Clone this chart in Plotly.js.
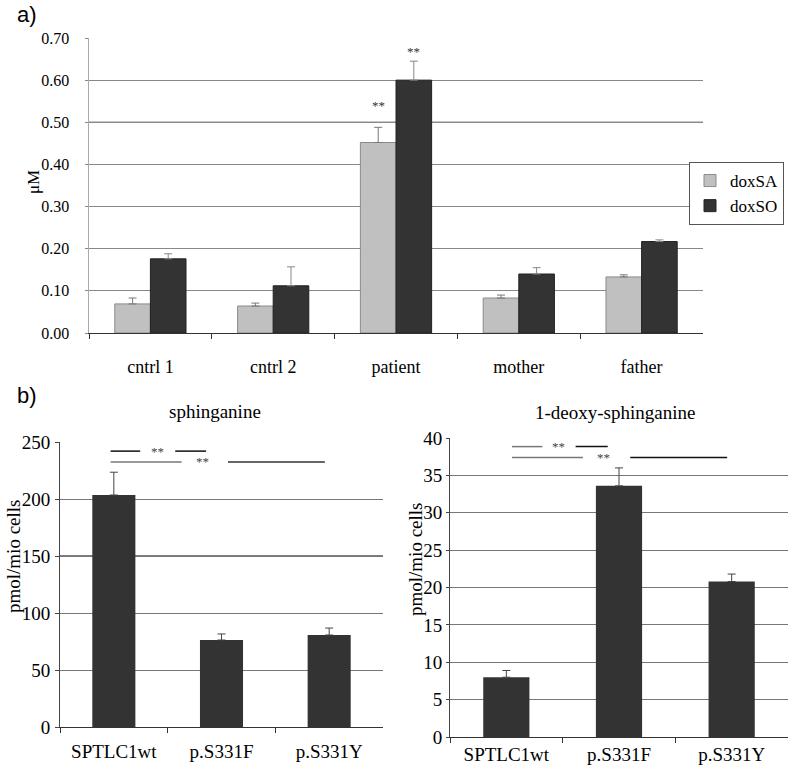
<!DOCTYPE html>
<html>
<head>
<meta charset="utf-8">
<script src="https://cdn.plot.ly/plotly-3.0.1.min.js"></script>
<style>html,body{margin:0;padding:0;background:#fff;overflow:hidden;}#chart{width:790px;height:765px;}</style>
</head>
<body>
<div id="chart"></div>
<script>
// ---- Data ----
var groupsA = ["cntrl 1", "cntrl 2", "patient", "mother", "father"];
var doxSA = [0.069, 0.064, 0.452, 0.083, 0.133];
var doxSAerr = [0.014, 0.007, 0.036, 0.007, 0.005];
var doxSO = [0.176, 0.112, 0.600, 0.140, 0.217];
var doxSOerr = [0.012, 0.045, 0.045, 0.015, 0.004];

var groupsB = ["SPTLC1wt", "p.S331F", "p.S331Y"];
var sphinganine = [203.5, 76.3, 80.7];
var sphinganineErr = [20, 5.3, 6.1];
var deoxySA = [8.0, 33.6, 20.8];
var deoxySAerr = [0.9, 2.4, 1.0];

var yTicksA = [0, 0.1, 0.2, 0.3, 0.4, 0.5, 0.6, 0.7];
var yTicksB1 = [0, 50, 100, 150, 200, 250];
var yTicksB2 = [0, 5, 10, 15, 20, 25, 30, 35, 40];

var SERIF = "Liberation Serif";
var SANS = "Liberation Sans";
var W = 790, H = 765;
function px(x) { return x / W; }
function py(y) { return 1 - y / H; }

var traces = [
  {type: "bar", name: "doxSA", x: groupsA, y: doxSA, xaxis: "x", yaxis: "y",
   marker: {color: "#c0c0c0", line: {color: "#8a8a8a", width: 1}},
   error_y: {type: "data", array: doxSAerr, symmetric: false, arrayminus: doxSAerr.map(function(){return 0;}), color: "#777", thickness: 1, width: 4}},
  {type: "bar", name: "doxSO", x: groupsA, y: doxSO, xaxis: "x", yaxis: "y",
   marker: {color: "#333333", line: {color: "#222", width: 1}},
   error_y: {type: "data", array: doxSOerr, symmetric: false, arrayminus: doxSOerr.map(function(){return 0;}), color: "#888", thickness: 1, width: 4}},
  {type: "bar", name: "sphinganine", x: groupsB, y: sphinganine, xaxis: "x2", yaxis: "y2", showlegend: false,
   width: 0.4,
   marker: {color: "#333333"},
   error_y: {type: "data", array: sphinganineErr, symmetric: false, arrayminus: [0,0,0], color: "#444", thickness: 1, width: 4}},
  {type: "bar", name: "1-deoxy-sphinganine", x: groupsB, y: deoxySA, xaxis: "x3", yaxis: "y3", showlegend: false,
   width: 0.41,
   marker: {color: "#333333"},
   error_y: {type: "data", array: deoxySAerr, symmetric: false, arrayminus: [0,0,0], color: "#444", thickness: 1, width: 4}}
];

// significance brackets: [xref, yref, x0, x1, y, color]
var sigLines = [
  ["x2", "y2", -0.03, 0.245, 242, "#111"],
  ["x2", "y2", 0.57, 0.857, 242, "#111"],
  ["x2", "y2", -0.03, 0.63, 232.5, "#777"],
  ["x2", "y2", 1.06, 1.96, 232.5, "#333"],
  ["x3", "y3", 0.05, 0.32, 38.85, "#777"],
  ["x3", "y3", 0.615, 0.90, 38.85, "#111"],
  ["x3", "y3", 0.05, 0.68, 37.4, "#777"],
  ["x3", "y3", 1.10, 1.96, 37.4, "#111"]
];
var sigStars = [
  ["x2", "y2", 0.41, 242], ["x2", "y2", 0.82, 232.5],
  ["x3", "y3", 0.465, 38.85], ["x3", "y3", 0.86, 37.4]
];
// darker gridlines as in the figure
var darkGrid = [["y", 0.5, "x"], ["y2", 150, "x2"], ["y3", 20, "x3"]];

var shapes = sigLines.map(function(s) {
  return {type: "line", xref: s[0], yref: s[1], x0: s[2], x1: s[3], y0: s[4], y1: s[4],
          line: {color: s[5], width: 1.5}};
});
darkGrid.forEach(function(g) {
  shapes.push({type: "line", xref: g[2] + " domain", yref: g[0], x0: 0, x1: 1, y0: g[1], y1: g[1],
               line: {color: "#000", width: 1}, layer: "below"});
});

function ann(text, x, y, size, fam, angle) {
  return {text: text, xref: "paper", yref: "paper", x: px(x), y: py(y), showarrow: false,
          xanchor: "center", yanchor: "middle", textangle: angle || 0,
          font: {family: fam, size: size, color: "#000"}};
}
var annotations = [
  ann("a)", 27, 14, 22, SANS),
  ann("b)", 27, 395, 22, SANS),
  ann("μM", 33, 182, 17, SERIF, -90),
  ann("pmol/mio cells", 13, 557, 19, SERIF, -90),
  ann("pmol/mio cells", 415, 560, 19, SERIF, -90),
  ann("sphinganine", 215, 411, 19, SERIF),
  ann("1-deoxy-sphinganine", 615, 412, 19, SERIF),
  {text: "**", xref: "x", yref: "y", x: 2 - 0.144, y: doxSA[2] + doxSAerr[2], yshift: 22, showarrow: false,
   font: {family: SERIF, size: 13, color: "#333"}},
  {text: "**", xref: "x", yref: "y", x: 2 + 0.144, y: doxSO[2] + doxSOerr[2], yshift: 10, showarrow: false,
   font: {family: SERIF, size: 13, color: "#333"}}
];
sigStars.forEach(function(s) {
  annotations.push({text: "**", xref: s[0], yref: s[1], x: s[2], y: s[3], showarrow: false,
                    font: {family: SERIF, size: 13, color: "#444"}});
});

var layout = {
  width: W, height: H,
  margin: {l: 0, r: 0, t: 0, b: 0},
  paper_bgcolor: "#fff", plot_bgcolor: "#fff",
  barmode: "group", bargap: 0.42, bargroupgap: 0,
  showlegend: true,
  legend: {x: px(784), y: py(162), xanchor: "right", yanchor: "top",
           bordercolor: "#555", borderwidth: 1, bgcolor: "#fff",
           font: {family: SERIF, size: 17, color: "#000"}, itemwidth: 30, tracegroupgap: 0},
  xaxis: {domain: [px(89), px(703)], anchor: "y", type: "category",
          showline: true, linecolor: "#333", linewidth: 1, showgrid: false,
          ticks: "outside", tickson: "boundaries", ticklen: 5, tickcolor: "#333",
          tickfont: {family: SERIF, size: 18, color: "#000"}, ticklabelstandoff: 17},
  yaxis: {domain: [py(333), py(38)], anchor: "x", range: [0, 0.7],
          tickvals: yTicksA, ticktext: yTicksA.map(function(v){return v.toFixed(2);}),
          showline: true, linecolor: "#aaa", linewidth: 1.5,
          showgrid: true, gridcolor: "#888", gridwidth: 1, zeroline: false,
          ticks: "outside", ticklen: 3, tickcolor: "#888",
          tickfont: {family: SERIF, size: 16, color: "#000"}, ticklabelstandoff: 12},
  xaxis2: {domain: [px(60), px(383)], anchor: "y2", type: "category",
           showline: true, linecolor: "#333", linewidth: 1, showgrid: false,
           ticks: "outside", tickson: "boundaries", ticklen: 5, tickcolor: "#333",
           tickfont: {family: SERIF, size: 19, color: "#000"}, ticklabelstandoff: 7},
  yaxis2: {domain: [py(727), py(442)], anchor: "x2", range: [0, 250], tickvals: yTicksB1,
           showline: true, linecolor: "#444", linewidth: 1,
           showgrid: true, gridcolor: "#777", gridwidth: 1, zeroline: false,
           ticks: "outside", ticklen: 4, tickcolor: "#444",
           tickfont: {family: SERIF, size: 19, color: "#000"}, ticklabelstandoff: 1},
  xaxis3: {domain: [px(450), px(788)], anchor: "y3", type: "category",
           showline: true, linecolor: "#333", linewidth: 1, showgrid: false,
           ticks: "outside", tickson: "boundaries", ticklen: 5, tickcolor: "#333",
           tickfont: {family: SERIF, size: 19, color: "#000"}, ticklabelstandoff: 0},
  yaxis3: {domain: [py(737), py(438)], anchor: "x3", range: [0, 40], tickvals: yTicksB2,
           showline: true, linecolor: "#444", linewidth: 1,
           showgrid: true, gridcolor: "#777", gridwidth: 1, zeroline: false,
           ticks: "outside", ticklen: 3, tickcolor: "#444",
           tickfont: {family: SERIF, size: 19, color: "#000"}, ticklabelstandoff: 0},
  shapes: shapes,
  annotations: annotations
};

Plotly.newPlot("chart", traces, layout, {displayModeBar: false, staticPlot: true});
</script>
</body>
</html>
